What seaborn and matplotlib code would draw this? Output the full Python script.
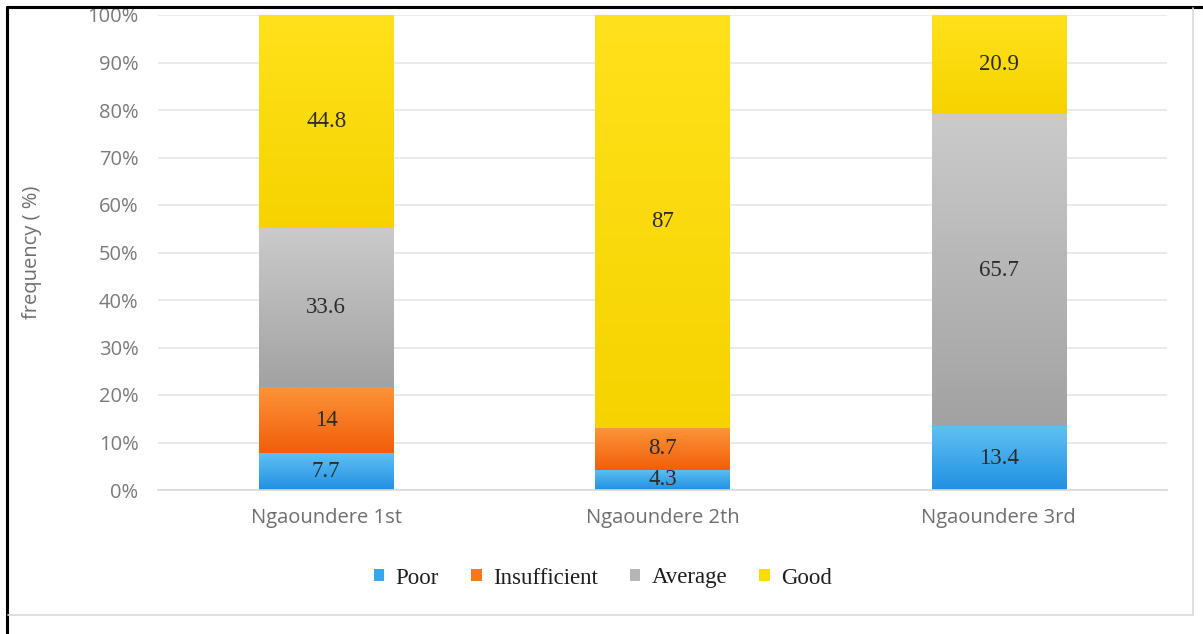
import numpy as np
import matplotlib
matplotlib.use("Agg")
import matplotlib.pyplot as plt
import seaborn as sns
from matplotlib.patches import Patch
from matplotlib.lines import Line2D
from matplotlib.colors import to_rgb

# Appreciation levels per district (percent of respondents)
districts = ["Ngaoundere 1st", "Ngaoundere 2th", "Ngaoundere 3rd"]
levels = ["Poor", "Insufficient", "Average", "Good"]
poor = [7.7, 4.3, 13.4]
insufficient = [14, 8.7, 0]
average = [33.6, 0, 65.7]
good = [44.8, 87, 20.9]
y_ticks = [0, 10, 20, 30, 40, 50, 60, 70, 80, 90, 100]

# (top, bottom) shades of the vertical gradient used for every segment
shades = {
    "Poor": ("#5fc0f2", "#2190e3"),
    "Insufficient": ("#fc9439", "#f25e0a"),
    "Average": ("#cbcbcb", "#a2a2a2"),
    "Good": ("#ffe21c", "#f6d300"),
}
legend_colors = {
    "Poor": "#3aa6ea",
    "Insufficient": "#f7761e",
    "Average": "#b5b5b5",
    "Good": "#fbdb00",
}

sns.set_style("white")
plt.rcParams["font.family"] = ["Open Sans", "DejaVu Sans"]

W, H = 1203, 634
fig = plt.figure(figsize=(W / 100, H / 100), dpi=100)
ax = fig.add_axes([158 / W, 1 - 490 / H, 1009 / W, 475 / H])

series = [poor, insufficient, average, good]
totals = np.sum(np.array(series, dtype=float), axis=0)
bottom = np.zeros(len(districts))
for name, raw in zip(levels, series):
    share = np.array(raw, dtype=float) / totals * 100
    sns.barplot(x=districts, y=share, bottom=bottom.copy(), width=0.4,
                color=legend_colors[name], saturation=1, linewidth=0,
                errorbar=None, ax=ax, zorder=2)
    bottom += share

# Vertical gradient fill and value label on every segment
for container, name, raw in zip(ax.containers, levels, series):
    top_c = np.array(to_rgb(shades[name][0]))
    bot_c = np.array(to_rgb(shades[name][1]))
    t = np.linspace(0, 1, 128)[:, None]
    img = (bot_c + (top_c - bot_c) * t)[:, None, :]
    for bar, v in zip(container, raw):
        x0, y0 = bar.get_x(), bar.get_y()
        w, h = bar.get_width(), bar.get_height()
        if h <= 0:
            continue
        ax.imshow(img, extent=[x0, x0 + w, y0, y0 + h], origin="lower",
                  aspect="auto", interpolation="bilinear", zorder=2.5)
        ax.text(x0 + w / 2, y0 + h / 2, f"{v:g}", ha="center", va="center",
                family="Liberation Serif", fontsize=16.5, color="#2b2b2b",
                zorder=4)

ax.set_xlim(-0.5, 2.5)
ax.set_ylim(0, 100)
ax.set_yticks(y_ticks)
ax.set_yticklabels([f"{t}%" for t in y_ticks])
ax.set_xticks(range(len(districts)))
ax.set_xticklabels(districts)
ax.set_xticks([-0.5, 2.5], minor=True)
ax.grid(axis="y", color="#e4e4e4", linewidth=1.1, zorder=0)
ax.grid(axis="x", visible=False)
ax.set_axisbelow(True)
for side in ["left", "top", "right"]:
    ax.spines[side].set_visible(False)
ax.spines["bottom"].set_color("#d9d9d9")
ax.spines["bottom"].set_linewidth(1.2)
ax.tick_params(axis="y", length=0, pad=14, labelsize=14.5, labelcolor="#7a7a7a")
ax.tick_params(axis="x", which="major", length=0, pad=13, labelsize=14.5,
               labelcolor="#6e6e6e")
ax.tick_params(axis="x", which="minor", length=6, width=1.2, color="#d9d9d9")
ax.set_xlabel("")
ax.set_ylabel("frequency ( %)", fontsize=14.5, color="#6e6e6e", va="center")
ax.yaxis.set_label_coords(-0.125, 0.5)

handles = [Patch(facecolor=legend_colors[n], edgecolor="none") for n in levels]
ax.legend(handles, levels, loc="center", ncol=4, frameon=False,
          bbox_to_anchor=(603 / W, 1 - 578 / H), bbox_transform=fig.transFigure,
          prop={"family": "Liberation Serif", "size": 16.5},
          handlelength=0.45, handleheight=0.45, handletextpad=0.5,
          columnspacing=1.4, labelcolor="#1e1e1e")

# Page frame around the chart
fig.add_artist(Line2D([7 / W, 1], [1 - 7 / H, 1 - 7 / H], color="black", lw=2.2))
fig.add_artist(Line2D([7 / W, 7 / W], [0, 1 - 7 / H], color="black", lw=2.2))
fig.add_artist(Line2D([1193 / W, 1193 / W], [1 - 615 / H, 1 - 8 / H],
                      color="#dadada", lw=1.2))
fig.add_artist(Line2D([8 / W, 1193 / W], [1 - 615 / H, 1 - 615 / H],
                      color="#dadada", lw=1.2))

fig.savefig("out.png", dpi=100)
